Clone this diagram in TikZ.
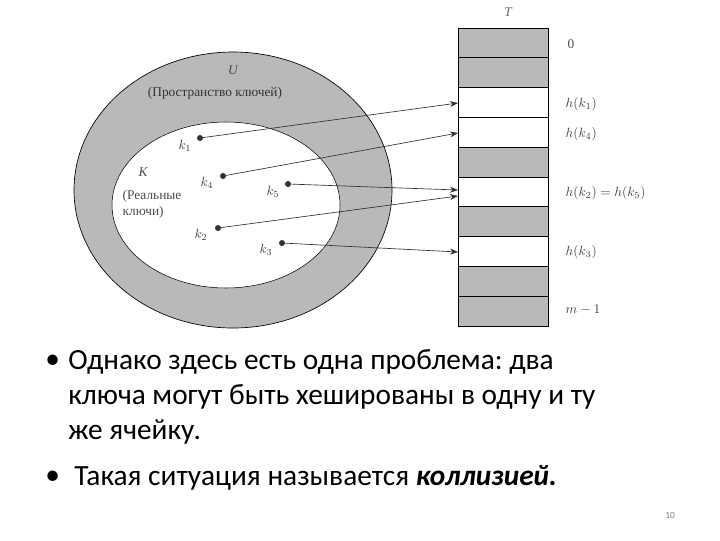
\documentclass[tikz,border=0pt]{standalone}
\usepackage{fontspec}
\usetikzlibrary{arrows.meta}
\setmainfont{Liberation Serif}
\newfontfamily\bodyfont{Carlito}
\frenchspacing
\begin{document}
\begin{tikzpicture}[x=0.75pt,y=-0.75pt,
  shade/.style={fill=gray!55,draw=black,line width=0.5pt},
  blank/.style={fill=white,draw=black,line width=0.5pt},
  keydot/.style={circle,fill=black!80,inner sep=1.6pt},
  lab/.style={font=\itshape,text=black!75},
  arr/.style={-{Stealth[length=6pt]},line width=0.5pt,black!80},
  bul/.style={font=\bodyfont\frenchspacing\fontsize{22}{26}\selectfont,anchor=west,inner sep=0pt}]
\useasboundingbox (0,0) rectangle (720,540);
\fill[white] (0,0) rectangle (720,540);
% ellipses
\draw[fill=gray!55,line width=0.5pt] (233,190) ellipse [x radius=159,y radius=138];
\draw[fill=white,line width=0.4pt] (226,205) ellipse [x radius=114,y radius=83];
\node[font=\itshape,text=black!70] (U) at (233,70) {U};
\node[text=black!80] (Ut) at (215,93) {(Пространство ключей)};
\node[font=\itshape,text=black!70] (K) at (143,172) {K};
\node[text=black!70,align=left] (Kt) at (152,204) {(Реальные\\ ключи)};
% table
\foreach \i/\s in {0/shade,1/shade,2/blank,3/blank,4/shade,5/blank,6/shade,7/blank,8/shade,9/shade}{
  \path[\s] (458,{28+\i*29.8}) rectangle (548,{28+(\i+1)*29.8});
}
\node[font=\itshape,text=black!60] (T) at (508,12) {T};
\node[text=black!70,anchor=west] (l0) at (563,44) {0};
\node[lab,anchor=west] (l1) at (561,104) {$h(k_1)$};
\node[lab,anchor=west] (l4) at (561,134) {$h(k_4)$};
\node[lab,anchor=west] (l2) at (561,193) {$h(k_2) = h(k_5)$};
\node[lab,anchor=west] (l3) at (561,252) {$h(k_3)$};
\node[lab,anchor=west] (lm) at (561,310) {$m-1$};
% keys
\node[keydot] (k1) at (200,138) {};
\node[keydot] (k4) at (223,176) {};
\node[keydot] (k5) at (288,184) {};
\node[keydot] (k2) at (218,228) {};
\node[keydot] (k3) at (282,243) {};
\node[lab] at (185,146) {$k_1$};
\node[lab] at (207,183) {$k_4$};
\node[lab] at (273,192) {$k_5$};
\node[lab] at (201,235) {$k_2$};
\node[lab] at (266,250) {$k_3$};
\coordinate (t1) at (458,103);
\coordinate (t4) at (458,133);
\coordinate (t5) at (458,190);
\coordinate (t2) at (458,196);
\coordinate (t3) at (458,252);
\draw[arr] (k1) -- (t1);
\draw[arr] (k4) -- (t4);
\draw[arr] (k5) -- (t5);
\draw[arr] (k2) -- (t2);
\draw[arr] (k3) -- (t3);
% text
\node[bul] (d1) at (45,362) {•};
\node[bul] (b1) at (68,362) {Однако здесь есть одна проблема: два};
\node[bul] (b1b) at (68,397) {ключа могут быть хешированы в одну и ту};
\node[bul] (b1c) at (68,432) {же ячейку.};
\node[bul] (d2) at (45,478) {•};
\node[bul] (b2) at (74,478) {Такая ситуация называется \textbf{\textit{коллизией.}}};
\node[font=\bodyfont\scriptsize,text=gray] (pg) at (670,515) {10};
\end{tikzpicture}
\end{document}
